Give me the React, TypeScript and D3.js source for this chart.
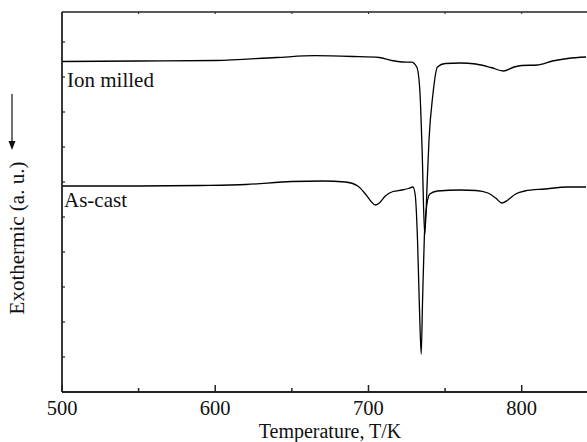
import { useRef, useEffect } from 'react';
import * as d3 from 'd3';

// temperature (K) and signal (a.u., down = endothermic peak)
const ionT = [500, 550, 600, 640, 665, 690, 707, 715, 722, 728, 731.5, 733.5, 735, 736.7, 738.5, 739.5, 742, 745, 750, 760, 770, 780, 788, 795, 800, 810, 820, 830, 842];
const ionV = [33.05, 33.1, 33.15, 33.45, 33.63, 33.55, 33.45, 33.15, 33.0, 32.98, 32.5, 30.2, 24.2, 15.7, 21.7, 25.2, 29.7, 32.5, 32.85, 32.9, 32.8, 32.45, 32.1, 32.5, 32.65, 32.7, 33.1, 33.35, 33.5];

const castT = [500, 550, 590, 620, 650, 670, 685, 693, 698, 702, 704.5, 707, 711, 716, 722, 726, 729, 730.5, 732, 733.3, 734.4, 735.3, 736.5, 737.5, 740, 745, 760, 770, 778, 783, 787, 791, 796, 802, 815, 830, 842];
const castV = [20.6, 20.6, 20.65, 20.75, 21.05, 21.1, 21.0, 20.6, 19.8, 19.0, 18.7, 18.9, 19.6, 20.05, 20.2, 20.35, 20.5, 19.7, 15.2, 8.2, 3.8, 9.2, 15.7, 18.0, 19.8, 20.1, 20.2, 20.15, 19.9, 19.4, 18.9, 19.2, 19.8, 20.1, 20.3, 20.5, 20.5];

const xMajor = [500, 600, 700, 800];
const xMinor = [550, 650, 750];
const yTicks = [3.5, 7, 10.5, 14, 17.5, 21, 24.5, 28, 31.5, 35];

const W = 587, H = 442;
const FONT = '"Liberation Serif", "Times New Roman", serif';

export default function App() {
  const svgRef = useRef<SVGSVGElement>(null);

  useEffect(() => {
    const svg = d3.select(svgRef.current);
    svg.selectAll('*').remove();

    const x = d3.scaleLinear().domain([500, 842.6]).range([62, 587]);
    const y = d3.scaleLinear().domain([0, 38]).range([392, 12]);
    const axisCol = '#222';

    const line = d3.line<[number, number]>()
      .x(d => x(d[0])).y(d => y(d[1]))
      .curve(d3.curveMonotoneX);

    const series = [
      d3.zip(ionT, ionV) as [number, number][],
      d3.zip(castT, castV) as [number, number][],
    ];
    series.forEach(s => {
      svg.append('path').attr('d', line(s)).attr('fill', 'none')
        .attr('stroke', '#000').attr('stroke-width', 1.3);
    });

    // frame
    svg.append('line').attr('x1', 62).attr('x2', 587).attr('y1', 12).attr('y2', 12)
      .attr('stroke', axisCol).attr('stroke-width', 1.5);
    svg.append('line').attr('x1', 62).attr('x2', 62).attr('y1', 12).attr('y2', 392)
      .attr('stroke', axisCol).attr('stroke-width', 1.8);
    svg.append('line').attr('x1', 62).attr('x2', 587).attr('y1', 392).attr('y2', 392)
      .attr('stroke', axisCol).attr('stroke-width', 1.8);

    // x ticks
    xMajor.forEach(t => {
      svg.append('line').attr('x1', x(t)).attr('x2', x(t)).attr('y1', 392).attr('y2', 385)
        .attr('stroke', axisCol).attr('stroke-width', 1.5);
      svg.append('text').attr('x', x(t)).attr('y', 415).attr('text-anchor', 'middle')
        .attr('font-family', FONT).attr('font-size', 20.5).attr('fill', '#111').text(t);
    });
    xMinor.forEach(t => {
      svg.append('line').attr('x1', x(t)).attr('x2', x(t)).attr('y1', 392).attr('y2', 388)
        .attr('stroke', axisCol).attr('stroke-width', 1.5);
    });
    [...xMinor, ...xMajor.slice(1)].forEach(t => {
      svg.append('line').attr('x1', x(t)).attr('x2', x(t)).attr('y1', 12).attr('y2', 14)
        .attr('stroke', axisCol).attr('stroke-width', 1);
    });

    // y ticks (no labels)
    yTicks.forEach(t => {
      svg.append('line').attr('x1', 62).attr('x2', 65).attr('y1', y(t)).attr('y2', y(t))
        .attr('stroke', axisCol).attr('stroke-width', 1.2);
    });

    // labels
    svg.append('text').attr('x', 330).attr('y', 438).attr('text-anchor', 'middle')
      .attr('font-family', FONT).attr('font-size', 20).attr('fill', '#111')
      .text('Temperature, T/K');
    svg.append('text').attr('transform', 'translate(24,238) rotate(-90)')
      .attr('text-anchor', 'middle').attr('font-family', FONT).attr('font-size', 21)
      .attr('fill', '#111').text('Exothermic (a. u.)');
    svg.append('line').attr('x1', 12).attr('x2', 12).attr('y1', 94).attr('y2', 143)
      .attr('stroke', '#111').attr('stroke-width', 1.2);
    svg.append('path').attr('d', 'M8.5,141 L15.5,141 L12,150 Z').attr('fill', '#111');

    svg.append('text').attr('x', 67).attr('y', 87)
      .attr('font-family', FONT).attr('font-size', 21).attr('fill', '#111').text('Ion milled');
    svg.append('text').attr('x', 64).attr('y', 207)
      .attr('font-family', FONT).attr('font-size', 21).attr('fill', '#111').text('As-cast');
  }, []);

  return (
    <svg ref={svgRef} width={W} height={H}
      style={{ position: 'absolute', left: 0, top: 0, background: '#fff' }} />
  );
}
